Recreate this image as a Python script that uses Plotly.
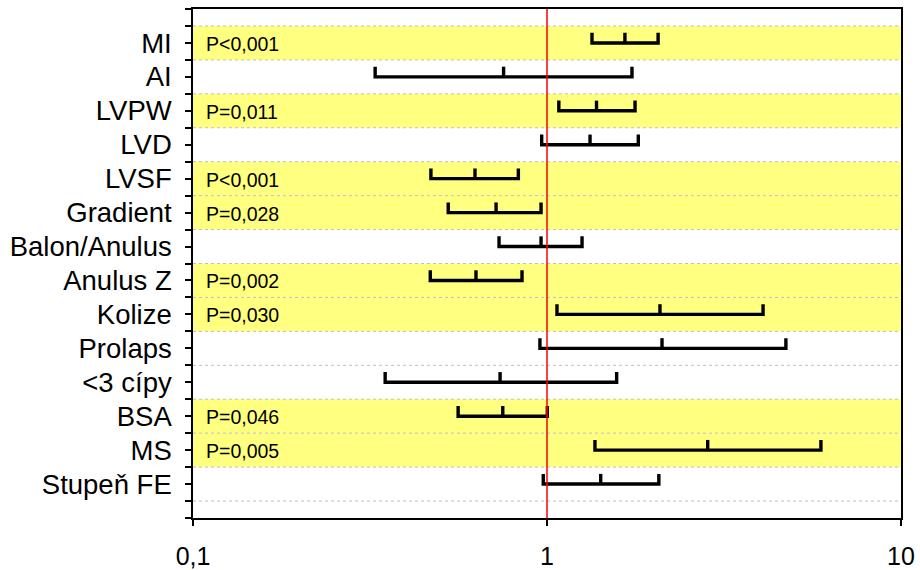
import plotly.graph_objects as go

categories = ["MI", "AI", "LVPW", "LVD", "LVSF", "Gradient", "Balon/Anulus",
              "Anulus Z", "Kolize", "Prolaps", "<3 cípy", "BSA", "MS", "Stupeň FE"]
lower = [1.34, 0.327, 1.08, 0.966, 0.47, 0.526, 0.732, 0.468, 1.067, 0.955, 0.349, 0.561, 1.366, 0.976]
middle = [1.66, 0.754, 1.38, 1.323, 0.626, 0.718, 0.962, 0.630, 2.085, 2.113, 0.737, 0.750, 2.844, 1.418]
upper = [2.06, 1.738, 1.773, 1.811, 0.830, 0.962, 1.256, 0.850, 4.077, 4.73, 1.573, 1.002, 5.94, 2.07]
p_text = ["P<0,001", "", "P=0,011", "", "P<0,001", "P=0,028", "",
          "P=0,002", "P=0,030", "", "", "P=0,046", "P=0,005", ""]
x_ticks = [0.1, 1, 10]
x_tick_labels = ["0,1", "1", "10"]

pos = list(range(1, len(categories) + 1))
cap = 0.3

xs, ys = [], []
for y, lo, mi, hi in zip(pos, lower, middle, upper):
    xs += [lo, lo, hi, hi, None, mi, mi, None]
    ys += [y - cap, y, y, y - cap, None, y - cap, y, None]

fig = go.Figure()
fig.add_trace(go.Scatter(x=xs, y=ys, mode="lines",
                         line=dict(color="black", width=3.4),
                         hoverinfo="skip", showlegend=False))

shapes = []
for y, p in zip(pos, p_text):
    if p:
        shapes.append(dict(type="rect", xref="paper", x0=0, x1=1, yref="y",
                           y0=y - 0.5, y1=y + 0.5, fillcolor="#FFFF80",
                           line=dict(width=0), layer="below"))
for k in range(len(categories) + 1):
    shapes.append(dict(type="line", xref="paper", x0=0, x1=1, yref="y",
                       y0=k + 0.5, y1=k + 0.5,
                       line=dict(color="#BFBFBF", width=1, dash="dot"), layer="below"))
shapes.append(dict(type="line", xref="x", x0=1, x1=1, yref="paper", y0=0, y1=1,
                   line=dict(color="red", width=1.5), layer="above"))

annotations = []
for y, p in zip(pos, p_text):
    if p:
        annotations.append(dict(x=0, xref="paper", y=y, yref="y", text=p,
                                showarrow=False, xanchor="left", yanchor="middle",
                                xshift=11, yshift=-1,
                                font=dict(family="Liberation Sans, Arial", size=19.5, color="black")))

fig.update_layout(
    width=920, height=570,
    margin=dict(l=193, r=19, t=9, b=52),
    paper_bgcolor="white", plot_bgcolor="white",
    shapes=shapes, annotations=annotations,
    showlegend=False,
    font=dict(family="Liberation Sans, Arial", color="black"),
)
fig.update_xaxes(type="log", range=[-1, 1], tickvals=x_ticks, ticktext=x_tick_labels,
                 ticks="outside", ticklen=6, tickwidth=1.5, tickcolor="black",
                 showline=True, linecolor="black", linewidth=1.5, mirror=True,
                 showgrid=False, zeroline=False, automargin=False,
                 tickfont=dict(size=25), ticklabelstandoff=9)
fig.update_yaxes(range=[15, 0], tickvals=pos, ticktext=categories,
                 ticks="outside", ticklen=6, tickwidth=1.5, tickcolor="black",
                 minor=dict(ticks="outside", ticklen=6, tickwidth=1.5, tickcolor="black",
                            tick0=0, dtick=0.5, showgrid=False),
                 showline=True, linecolor="black", linewidth=1.5, mirror=True,
                 showgrid=False, zeroline=False, automargin=False,
                 tickfont=dict(size=27.5), ticklabelstandoff=8)

fig.write_html("out.html", config={"displayModeBar": False},
               post_script="document.body.style.margin='0px';document.body.style.overflow='hidden';")
